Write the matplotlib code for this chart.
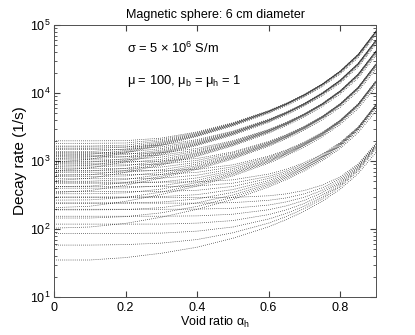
import matplotlib
matplotlib.use('Agg')
import matplotlib.pyplot as plt

# void ratio alpha_h (x axis)
alpha = [0, 0.1, 0.2, 0.3, 0.4, 0.5, 0.6, 0.65, 0.7, 0.75, 0.8, 0.85, 0.9]

# decay rates (1/s), one row per radial mode n = 1..7, for each order l
rate_l1 = [
    [35, 35, 38, 44, 54, 73, 108, 138, 183, 256, 386, 652, 1340],
    [103, 107, 121, 149, 195, 273, 415, 535, 716, 1010, 1530, 2610, 5420],
    [206, 216, 255, 322, 428, 605, 928, 1200, 1610, 2270, 3450, 5900, 12400],
    [343, 367, 441, 563, 755, 1070, 1650, 2130, 2860, 4040, 6160, 10600, 22400],
    [514, 558, 681, 874, 1170, 1670, 2570, 3320, 4470, 6330, 9670, 16600, 35600],
    [720, 790, 973, 1250, 1690, 2400, 3700, 4790, 6440, 9130, 14000, 24100, 52000],
    [959, 1060, 1320, 1700, 2300, 3270, 5040, 6520, 8780, 12500, 19100, 33100, 71800],
]
rate_l2 = [
    [58, 58, 59, 62, 70, 88, 122, 153, 200, 277, 418, 713, 1510],
    [145, 145, 152, 173, 215, 293, 439, 563, 754, 1070, 1630, 2820, 6020],
    [266, 268, 291, 349, 453, 633, 966, 1250, 1680, 2380, 3660, 6330, 13600],
    [421, 427, 481, 595, 786, 1110, 1700, 2210, 2970, 4230, 6500, 11300, 24200],
    [612, 626, 724, 910, 1210, 1720, 2650, 3440, 4640, 6600, 10200, 17600, 38000],
    [836, 864, 1020, 1300, 1740, 2470, 3810, 4940, 6670, 9510, 14600, 25400, 55000],
    [1100, 1140, 1370, 1750, 2350, 3350, 5180, 6730, 9080, 12900, 19900, 34700, 75300],
]
rate_l3 = [
    [86, 86, 86, 87, 93, 107, 140, 170, 217, 296, 440, 747, 1590],
    [191, 191, 193, 206, 242, 316, 461, 586, 780, 1100, 1680, 2910, 6290],
    [330, 330, 340, 386, 482, 659, 994, 1280, 1720, 2440, 3750, 6530, 14100],
    [503, 504, 534, 633, 817, 1140, 1740, 2250, 3030, 4320, 6650, 11600, 25200],
    [711, 714, 779, 950, 1250, 1760, 2700, 3500, 4720, 6730, 10400, 18100, 39400],
    [954, 962, 1080, 1340, 1770, 2510, 3870, 5020, 6780, 9680, 14900, 26100, 56900],
    [1230, 1250, 1430, 1800, 2390, 3400, 5250, 6820, 9220, 13200, 20300, 35500, 77600],
]
rate_l4 = [
    [118, 118, 118, 118, 122, 133, 163, 192, 238, 317, 463, 775, 1640],
    [241, 241, 242, 249, 277, 345, 487, 612, 806, 1130, 1720, 2980, 6460],
    [398, 398, 401, 433, 519, 690, 1020, 1310, 1750, 2480, 3820, 6650, 14500],
    [589, 589, 603, 682, 855, 1170, 1770, 2290, 3070, 4380, 6750, 11800, 25800],
    [815, 816, 852, 1000, 1290, 1790, 2740, 3540, 4780, 6810, 10500, 18400, 40300],
    [1080, 1080, 1150, 1390, 1810, 2550, 3910, 5070, 6850, 9790, 15100, 26500, 58000],
    [1370, 1370, 1500, 1850, 2440, 3440, 5310, 6890, 9310, 13300, 20600, 36100, 79100],
]
rate_l5 = [
    [154, 154, 154, 154, 156, 165, 192, 219, 264, 342, 488, 804, 1690],
    [296, 296, 296, 299, 320, 380, 517, 641, 835, 1160, 1750, 3030, 6580],
    [471, 471, 472, 491, 564, 727, 1060, 1340, 1780, 2520, 3870, 6740, 14700],
    [680, 680, 685, 742, 901, 1210, 1810, 2320, 3110, 4430, 6820, 11900, 26200],
    [924, 924, 941, 1060, 1330, 1830, 2770, 3580, 4820, 6870, 10600, 18600, 40900],
    [1200, 1200, 1240, 1450, 1860, 2590, 3960, 5120, 6910, 9870, 15300, 26800, 58800],
    [1520, 1520, 1600, 1910, 2490, 3490, 5350, 6940, 9380, 13400, 20800, 36400, 80100],
]
rate_l6 = [
    [195, 195, 195, 195, 196, 202, 225, 251, 294, 371, 516, 834, 1730],
    [356, 356, 356, 357, 371, 423, 554, 675, 868, 1190, 1790, 3070, 6670],
    [549, 549, 549, 559, 618, 770, 1090, 1380, 1820, 2560, 3910, 6810, 14900],
    [776, 776, 778, 815, 956, 1250, 1850, 2360, 3150, 4470, 6880, 12000, 26400],
    [1040, 1040, 1040, 1140, 1390, 1880, 2820, 3620, 4870, 6930, 10700, 18800, 41300],
    [1330, 1330, 1350, 1520, 1920, 2640, 4000, 5170, 6970, 9940, 15400, 27000, 59400],
    [1660, 1660, 1710, 1980, 2540, 3540, 5400, 6990, 9440, 13500, 20900, 36700, 80900],
]
rate_l7 = [
    [240, 240, 240, 240, 240, 244, 264, 287, 329, 404, 549, 867, 1770],
    [420, 420, 420, 420, 429, 472, 595, 714, 905, 1230, 1830, 3120, 6750],
    [631, 631, 631, 636, 681, 821, 1140, 1420, 1860, 2600, 3960, 6870, 15000],
    [877, 877, 877, 899, 1020, 1310, 1890, 2400, 3200, 4520, 6940, 12100, 26700],
    [1160, 1160, 1160, 1220, 1450, 1930, 2860, 3670, 4920, 6980, 10800, 18900, 41600],
    [1470, 1470, 1480, 1610, 1980, 2690, 4050, 5220, 7020, 10000, 15500, 27100, 59900],
    [1820, 1820, 1840, 2070, 2610, 3590, 5450, 7050, 9500, 13600, 21000, 36900, 81500],
]
rate_l8 = [
    [289, 289, 289, 289, 289, 291, 308, 329, 369, 442, 585, 903, 1810],
    [488, 488, 488, 489, 493, 528, 643, 758, 947, 1270, 1870, 3160, 6820],
    [719, 719, 719, 720, 752, 879, 1180, 1460, 1900, 2640, 4000, 6930, 15200],
    [982, 982, 982, 994, 1090, 1360, 1940, 2450, 3240, 4560, 6990, 12200, 26900],
    [1280, 1280, 1280, 1320, 1530, 1990, 2910, 3720, 4970, 7040, 10800, 19000, 41900],
    [1610, 1610, 1610, 1710, 2060, 2750, 4100, 5270, 7070, 10100, 15500, 27300, 60300],
    [1980, 1980, 1990, 2170, 2680, 3650, 5510, 7100, 9560, 13600, 21100, 37100, 82000],
]

plt.rcParams['font.family'] = ['Liberation Sans', 'DejaVu Sans']
plt.rcParams['mathtext.default'] = 'regular'
plt.rcParams['font.size'] = 9

fig = plt.figure(figsize=(4.15, 3.35), dpi=100)
ax = fig.add_axes([54 / 415, 38 / 335, 322 / 415, 272 / 335])

for rates in [rate_l1, rate_l2, rate_l3, rate_l4, rate_l5, rate_l6, rate_l7, rate_l8]:
    for row in rates:
        ax.plot(alpha, row, color='k', linestyle=(0, (1, 2)), lw=0.5)

ax.set_yscale('log')
ax.set_ylim(10, 1e5)
ax.set_xlim(0, 0.9)
ax.set_xticks([0, 0.2, 0.4, 0.6, 0.8])
ax.set_xticklabels(['0', '0.2', '0.4', '0.6', '0.8'])
ax.tick_params(which='both', direction='in', top=True, right=True, colors='#404040', labelcolor='k')
ax.tick_params(which='major', length=4)
ax.tick_params(which='minor', length=2)
ax.tick_params(axis='y', pad=2.5)
for sp in ax.spines.values():
    sp.set_color('#505050')
    sp.set_linewidth(0.7)

ax.set_title('Magnetic sphere: 6 cm diameter', fontsize=9, pad=5)
ax.set_xlabel('Void ratio α$_h$', labelpad=1)
ax.set_ylabel('Decay rate (1/s)', fontsize=11, labelpad=2)
ax.text(0.227, 0.915, 'σ = 5 × 10$^6$ S/m', transform=ax.transAxes, va='center', fontsize=9.3)
ax.text(0.227, 0.794, 'μ = 100, μ$_b$ = μ$_h$ = 1', transform=ax.transAxes, va='center', fontsize=9.3)

fig.savefig('out.png')
